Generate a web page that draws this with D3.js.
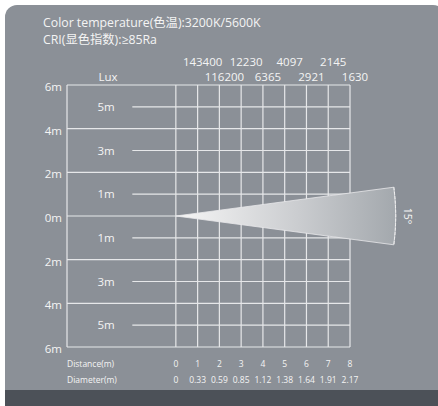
<!DOCTYPE html>
<html>
<head>
<meta charset="utf-8">
<script src="https://cdn.jsdelivr.net/npm/d3@7"></script>
<style>
  body { margin: 0; background: #fff; }
  text { font-family: "Open Sans", "Noto Sans", "Noto Sans CJK SC", sans-serif; fill: #f4f4f4; }
</style>
</head>
<body>
<div id="chart"></div>
<script>
// chart values
const distances = [0, 1, 2, 3, 4, 5, 6, 7, 8];
const diameters = ["0", "0.33", "0.59", "0.85", "1.12", "1.38", "1.64", "1.91", "2.17"];
const luxValues = [143400, 116200, 12230, 6365, 4097, 2921, 2145, 1630];
const evenTicks = [6, 4, 2, 0, -2, -4, -6];
const oddTicks = [5, 3, 1, -1, -3, -5];
const beamAngle = 15;
const beamLength = 10.1;
const titleLines = ["Color temperature(色温):3200K/5600K", "CRI(显色指数):≥85Ra"];

const width = 438;
const height = 406;

const svg = d3.select("#chart").append("svg")
    .attr("width", width)
    .attr("height", height);

// scales: metres to pixels
const x = d3.scaleLinear().domain([-5, 8]).range([67, 350]);
const y = d3.scaleLinear().domain([-6, 6]).range([347, 85]);

// panel background
svg.append("rect")
    .attr("x", 5).attr("y", 5)
    .attr("width", 440).attr("height", 420)
    .attr("rx", 12)
    .attr("fill", "#8b9097");

svg.append("rect")
    .attr("x", 5).attr("y", 390)
    .attr("width", 440).attr("height", 20)
    .attr("fill", "#4c5158");

// title
svg.selectAll(".title")
    .data(titleLines)
    .enter().append("text")
    .attr("x", 43)
    .attr("y", function(d, i) { return 27 + i * 17; })
    .style("font-size", "12.3px")
    .text(function(d) { return d; });

// grid
const grid = svg.append("g")
    .attr("stroke", "#e6e7e9")
    .attr("stroke-width", 1.2);

grid.selectAll(".vline")
    .data([-5].concat(distances))
    .enter().append("line")
    .attr("x1", function(d) { return x(d); })
    .attr("x2", function(d) { return x(d); })
    .attr("y1", y(6))
    .attr("y2", y(-6));

grid.selectAll(".hline")
    .data(evenTicks)
    .enter().append("line")
    .attr("x1", x(-5))
    .attr("x2", x(8))
    .attr("y1", function(d) { return y(d); })
    .attr("y2", function(d) { return y(d); });

grid.selectAll(".oline")
    .data(oddTicks)
    .enter().append("line")
    .attr("x1", x(-2))
    .attr("x2", x(8))
    .attr("y1", function(d) { return y(d); })
    .attr("y2", function(d) { return y(d); });

// side labels
svg.selectAll(".evenLabel")
    .data(evenTicks)
    .enter().append("text")
    .attr("x", 62)
    .attr("y", function(d) { return y(d) + 6; })
    .style("text-anchor", "end")
    .style("font-size", "11.5px")
    .text(function(d) { return Math.abs(d) + "m"; });

svg.selectAll(".oddLabel")
    .data(oddTicks)
    .enter().append("text")
    .attr("x", 106)
    .attr("y", function(d) { return y(d) + 4; })
    .style("text-anchor", "middle")
    .style("font-size", "11.5px")
    .text(function(d) { return Math.abs(d) + "m"; });

// lux labels, staggered in two rows
svg.append("text")
    .attr("x", 108)
    .attr("y", 81)
    .style("text-anchor", "middle")
    .style("font-size", "11.5px")
    .text("Lux");

svg.selectAll(".lux")
    .data(luxValues)
    .enter().append("text")
    .attr("x", function(d, i) { return x(i + 1) + 5; })
    .attr("y", function(d, i) { return i % 2 === 0 ? 66 : 81; })
    .style("text-anchor", "middle")
    .style("font-size", "11.5px")
    .text(function(d) { return d; });

// beam
const defs = svg.append("defs");
const grad = defs.append("linearGradient")
    .attr("id", "beamGrad")
    .attr("x1", "0%").attr("x2", "100%")
    .attr("y1", "0%").attr("y2", "0%");
grad.append("stop").attr("offset", "0%").attr("stop-color", "#f6f6f6");
grad.append("stop").attr("offset", "55%").attr("stop-color", "#cbcdd0");
grad.append("stop").attr("offset", "100%").attr("stop-color", "#a3a8ad");

const half = beamAngle / 2 * Math.PI / 180;
const ex = beamLength * Math.cos(half);
const ey = beamLength * Math.sin(half);
const r = x(beamLength) - x(0);

svg.append("path")
    .attr("d", "M" + x(0) + "," + y(0) +
        "L" + x(ex) + "," + y(ey) +
        "A" + r + "," + r + " 0 0 1 " + x(ex) + "," + y(-ey) + "Z")
    .attr("fill", "url(#beamGrad)")
    .attr("stroke", "#e8e9eb")
    .attr("stroke-width", 0.8);

svg.append("path")
    .attr("d", "M" + x(ex) + "," + y(ey) +
        "A" + r + "," + r + " 0 0 1 " + x(ex) + "," + y(-ey))
    .attr("fill", "none")
    .attr("stroke", "#f0f0f0")
    .attr("stroke-width", 1)
    .attr("stroke-dasharray", "3,1.5");

svg.append("text")
    .attr("transform", "translate(" + (x(beamLength) + 8) + "," + y(0) + ") rotate(90)")
    .style("text-anchor", "middle")
    .style("font-size", "10.5px")
    .text(beamAngle + "°");

// bottom table
svg.append("text")
    .attr("x", 67).attr("y", 367)
    .style("font-size", "8.5px")
    .text("Distance(m)");

svg.append("text")
    .attr("x", 67).attr("y", 383)
    .style("font-size", "8.5px")
    .text("Diameter(m)");

svg.selectAll(".dist")
    .data(distances)
    .enter().append("text")
    .attr("x", function(d) { return x(d); })
    .attr("y", 367)
    .style("text-anchor", "middle")
    .style("font-size", "8.5px")
    .text(function(d) { return d; });

svg.selectAll(".diam")
    .data(diameters)
    .enter().append("text")
    .attr("x", function(d, i) { return x(distances[i]); })
    .attr("y", 383)
    .style("text-anchor", "middle")
    .style("font-size", "8.5px")
    .text(function(d) { return d; });
</script>
</body>
</html>
